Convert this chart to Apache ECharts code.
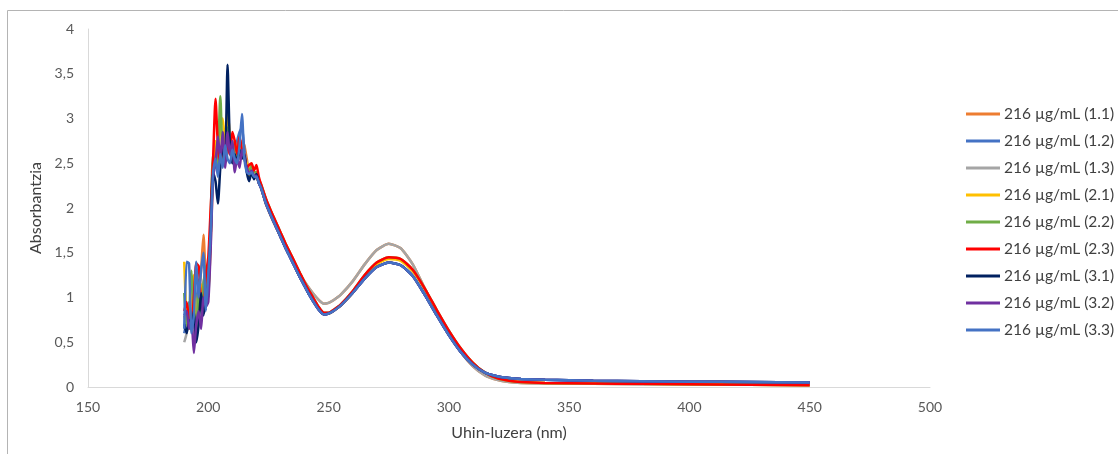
<!DOCTYPE html>
<html><head><meta charset="utf-8">
<script src="https://cdn.jsdelivr.net/npm/echarts@6/dist/echarts.min.js"></script>
<style>html,body{margin:0;padding:0;background:#fff}#c{width:1118px;height:454px}</style>
</head><body><div id="c"></div>
<script>
// Wavelengths (nm): noisy region at 1 nm, then the smooth tail
const wlNoise = [190,191,192,193,194,195,196,197,198,199,200,201,202,203,204,205,206,207,208,209,210,211,212,213,214,215,216,217,218,219,220,221];
const wlTail = [222,224,226,228,230,232,234,236,238,240,242,244,246,248,250,252,255,260,265,270,275,280,285,290,295,300,305,310,315,320,325,330,340,360,380,400,425,450];

const seriesNames = ['216 µg/mL (1.1)','216 µg/mL (1.2)','216 µg/mL (1.3)','216 µg/mL (2.1)','216 µg/mL (2.2)','216 µg/mL (2.3)','216 µg/mL (3.1)','216 µg/mL (3.2)','216 µg/mL (3.3)'];
const seriesColors = ['#ED7D31','#4472C4','#A5A5A5','#FFC000','#70AD47','#FF0000','#002060','#7030A0','#4472C4'];

// Noisy region values (190-221 nm)
const n11 = [0.80,0.70,0.85,1.00,0.75,0.60,0.95,1.30,1.70,1.20,1.05,1.60,2.40,2.70,2.50,2.60,2.75,2.55,2.70,2.80,2.60,2.65,2.70,2.60,2.75,2.70,2.55,2.40,2.45,2.40,2.38,2.30];
const n12 = [0.60,0.75,0.95,0.80,0.65,0.90,1.20,0.95,1.10,0.95,1.20,1.80,2.50,2.60,2.45,2.55,2.70,2.60,2.65,2.75,2.55,2.60,2.75,2.85,2.90,2.65,2.45,2.40,2.42,2.38,2.35,2.28];
const n13 = [0.50,0.60,0.85,0.70,0.55,0.80,1.05,0.90,1.20,1.00,1.10,1.70,2.45,2.55,2.65,2.50,2.60,2.70,2.60,2.70,2.55,2.65,2.60,2.55,2.70,2.60,2.50,2.40,2.45,2.40,2.38,2.30];
const n21 = [1.40,0.75,0.65,1.10,1.25,0.70,0.85,1.15,0.90,1.30,1.10,1.70,2.50,2.75,2.55,2.90,3.00,2.70,3.10,2.80,2.65,2.75,2.60,2.65,2.70,2.55,2.50,2.35,2.40,2.35,2.35,2.28];
const n22 = [1.05,0.70,0.80,1.30,0.90,0.60,1.10,0.85,1.15,1.35,1.00,1.90,2.60,2.45,2.60,3.25,2.55,2.50,2.90,2.65,2.55,2.70,2.55,2.65,2.60,2.55,2.45,2.42,2.48,2.40,2.40,2.32];
const n23 = [0.85,0.95,0.75,0.70,1.00,1.38,1.35,0.95,0.85,1.25,1.45,2.00,2.55,3.22,2.70,2.50,2.65,2.55,2.70,2.60,2.85,2.75,2.60,2.80,2.65,2.60,2.45,2.48,2.50,2.42,2.48,2.35];
const n31 = [0.70,0.60,0.75,0.65,0.85,0.50,0.70,1.05,0.80,0.95,1.15,1.70,2.40,2.30,2.05,2.45,2.70,2.50,3.60,2.70,2.50,2.60,2.50,2.65,2.55,2.60,2.40,2.30,2.40,2.32,2.38,2.28];
const n32 = [0.80,0.85,0.65,0.75,0.38,0.70,0.85,0.65,1.00,0.90,0.95,1.55,2.35,2.50,2.80,2.55,2.85,2.45,2.85,2.60,2.75,2.40,2.55,2.45,2.65,2.55,2.45,2.38,2.42,2.36,2.36,2.28];
const n33 = [0.65,1.40,1.38,0.60,0.80,1.40,1.00,1.30,1.50,0.85,1.25,1.75,2.40,2.55,2.35,2.60,2.45,2.70,2.55,2.50,2.65,2.55,2.50,2.70,3.05,2.55,2.40,2.38,2.40,2.35,2.35,2.28];

// Smooth tail values (222-450 nm)
const tailGrey = [2.22,2.04,1.91,1.79,1.68,1.57,1.47,1.37,1.27,1.18,1.10,1.03,0.97,0.93,0.94,0.97,1.03,1.18,1.37,1.53,1.60,1.55,1.37,1.10,0.84,0.60,0.39,0.23,0.13,0.08,0.055,0.045,0.04,0.035,0.03,0.03,0.025,0.025];
const tailRed = [2.26,2.10,1.97,1.85,1.73,1.61,1.50,1.39,1.28,1.17,1.07,0.98,0.89,0.83,0.83,0.86,0.92,1.07,1.25,1.39,1.45,1.43,1.31,1.10,0.86,0.63,0.43,0.27,0.16,0.10,0.07,0.055,0.045,0.04,0.035,0.03,0.025,0.02];
const tailYellow = [2.25,2.09,1.96,1.84,1.72,1.60,1.49,1.38,1.27,1.16,1.06,0.97,0.88,0.82,0.82,0.85,0.91,1.05,1.23,1.37,1.43,1.41,1.29,1.09,0.85,0.62,0.42,0.27,0.16,0.10,0.07,0.055,0.045,0.04,0.035,0.03,0.025,0.02];
const tailBlue = [2.22,2.05,1.92,1.80,1.68,1.56,1.45,1.34,1.23,1.13,1.03,0.94,0.86,0.81,0.82,0.85,0.91,1.05,1.21,1.34,1.39,1.36,1.24,1.03,0.80,0.58,0.39,0.25,0.16,0.12,0.10,0.09,0.08,0.07,0.065,0.06,0.055,0.05];

const noiseSets = [n11,n12,n13,n21,n22,n23,n31,n32,n33];
const tailSets = [tailGrey,tailBlue,tailGrey,tailYellow,tailRed,tailRed,tailBlue,tailBlue,tailBlue];

const xTicks = {min:150,max:500,interval:50};
const yTicks = {min:0,max:4,interval:0.5};

const wl = wlNoise.concat(wlTail);
const series = seriesNames.map((name,i)=>{
  const vals = noiseSets[i].concat(tailSets[i]);
  return {
    name, type:'line', smooth:0.2, symbol:'none', showSymbol:false,
    lineStyle:{width:2.5,color:seriesColors[i]}, itemStyle:{color:seriesColors[i]},
    data: wl.map((x,k)=>[x,vals[k]])
  };
});

const chart = echarts.init(document.getElementById('c'),null,{renderer:'canvas'});
const font = 'Lato, "Open Sans", sans-serif';
chart.setOption({
  animation:false,
  backgroundColor:'#fff',
  graphic:[{type:'rect',shape:{x:7.5,y:10.5,width:1200,height:500},style:{fill:'none',stroke:'#b4b4b4',lineWidth:1},silent:true}],
  grid:{left:88,right:188,top:29,bottom:67},
  xAxis:{type:'value',min:xTicks.min,max:xTicks.max,interval:xTicks.interval,
    name:'Uhin-luzera (nm)',nameLocation:'middle',nameGap:38,
    nameTextStyle:{fontFamily:font,fontSize:16,color:'#404040'},
    axisLine:{show:true,lineStyle:{color:'#d9d9d9',width:1}},axisTick:{show:false},splitLine:{show:false},
    axisLabel:{fontFamily:font,fontSize:14,color:'#595959',margin:13}},
  yAxis:{type:'value',min:yTicks.min,max:yTicks.max,interval:yTicks.interval,
    name:'Absorbantzia',nameLocation:'middle',nameGap:38,nameRotate:90,
    nameTextStyle:{fontFamily:font,fontSize:16,color:'#404040'},
    axisLine:{show:true,lineStyle:{color:'#d9d9d9',width:1}},axisTick:{show:false},splitLine:{show:false},
    axisLabel:{fontFamily:font,fontSize:14,color:'#595959',margin:14,formatter:v=>String(v).replace('.',',')}},
  legend:{orient:'vertical',left:961,top:101,itemGap:11,itemWidth:34,itemHeight:3,icon:'rect',
    textStyle:{fontFamily:font,fontSize:15.5,color:'#404040',padding:[0,0,0,-1]},
    data:seriesNames},
  series
});
</script></body></html>
